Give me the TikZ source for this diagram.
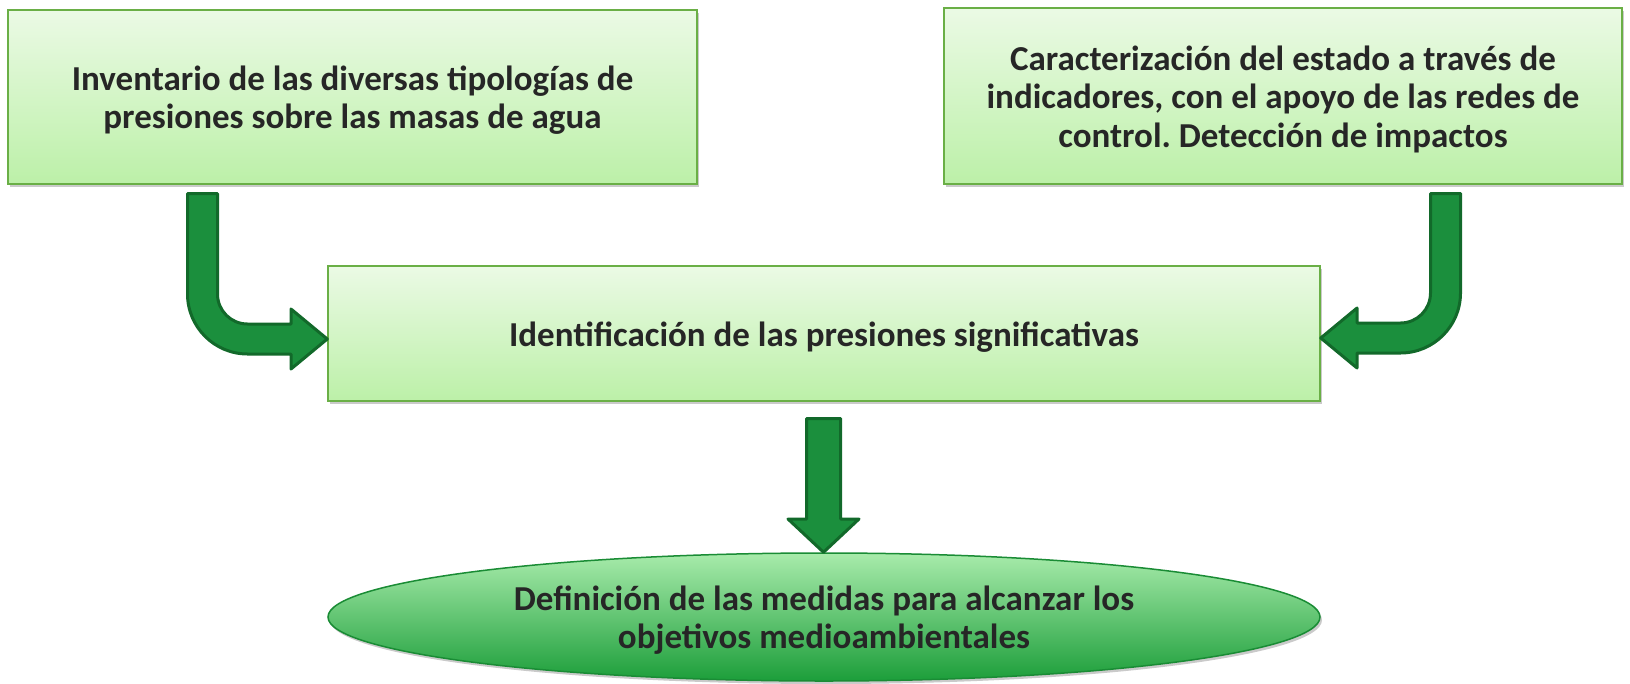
\documentclass[tikz,border=0pt]{standalone}
\usepackage{fontspec}
\setmainfont{Carlito}
\frenchspacing
\usetikzlibrary{shapes.geometric,shadows}
\definecolor{boxtop}{HTML}{EBFAE5}
\definecolor{boxbot}{HTML}{BCF0A8}
\definecolor{boxline}{HTML}{6AAF46}
\definecolor{elltop}{HTML}{A8EBAB}
\definecolor{ellbot}{HTML}{1C9E3A}
\definecolor{ellline}{HTML}{1A8C35}
\definecolor{arrfill}{HTML}{1B8F3D}
\definecolor{arrline}{HTML}{12692A}
\definecolor{txt}{HTML}{262626}
\newcommand{\mylines}[1]{\raisebox{-5pt}[\height][\depth]{\begin{tabular}{@{}c@{}}#1\end{tabular}}}
\tikzset{
  boxnode/.style={rectangle, draw=boxline, line width=1.5pt, top color=boxtop, bottom color=boxbot,
    align=center, text=txt, inner sep=0pt,
    font=\fontsize{35}{38.5}\selectfont\bfseries,
    drop shadow={shadow xshift=2pt, shadow yshift=-3pt, opacity=0.35, fill=black!60}},
  ellnode/.style={ellipse, draw=ellline, line width=1.5pt, top color=elltop, bottom color=ellbot,
    align=center, text=txt, inner sep=0pt,
    font=\fontsize{35}{38}\selectfont\bfseries,
    drop shadow={shadow xshift=2pt, shadow yshift=-3pt, opacity=0.35, fill=black!60}},
  bigarrow/.style={fill=arrfill, draw=arrline, line width=3pt, line join=round}
}
\begin{document}
\begin{tikzpicture}[x=1pt,y=-1pt]
\useasboundingbox (0,0) rectangle (1630,683);
\node[boxnode, minimum width=689pt, minimum height=174pt] (inv) at (352.5,97)
  {\mylines{Inventario de las diversas tipologías de\\presiones sobre las masas de agua}};
\node[boxnode, minimum width=678pt, minimum height=176pt] (car) at (1283,96)
  {\mylines{Caracterización del estado a través de\\indicadores, con el apoyo de las redes de\\control. Detección de impactos}};
\node[boxnode, minimum width=992pt, minimum height=135pt] (ide) at (824,333.5)
  {\mylines{Identificación de las presiones significativas}};
\node[ellnode, minimum width=992pt, minimum height=128pt] (def) at (824,617)
  {\mylines{Definición de las medidas para alcanzar los\\objetivos medioambientales}};
% left bent arrow from inv to ide
\draw[bigarrow] (187.5,193.5) -- (217.5,193.5) -- (217.5,294)
  .. controls (217.5,310.6) and (230.9,324) .. (247.5,324) -- (291,324) -- (291,309)
  -- (ide.west |- 0,339) -- (291,369) -- (291,354) -- (247.5,354)
  .. controls (214.4,354) and (187.5,327.1) .. (187.5,294) -- cycle;
% right bent arrow from car to ide
\draw[bigarrow] (1460.5,193.5) -- (1430.5,193.5) -- (1430.5,293)
  .. controls (1430.5,309.6) and (1417.1,323) .. (1400.5,323) -- (1357,323) -- (1357,308)
  -- (ide.east |- 0,338) -- (1357,368) -- (1357,353) -- (1400.5,353)
  .. controls (1433.6,353) and (1460.5,326.1) .. (1460.5,293) -- cycle;
% down arrow from ide to def
\draw[bigarrow] (806.5,418.5) -- (840.5,418.5) -- (840.5,519) -- (859,519)
  -- (def.north -| 823.5,0) -- (788,519) -- (806.5,519) -- cycle;
\end{tikzpicture}
\end{document}
